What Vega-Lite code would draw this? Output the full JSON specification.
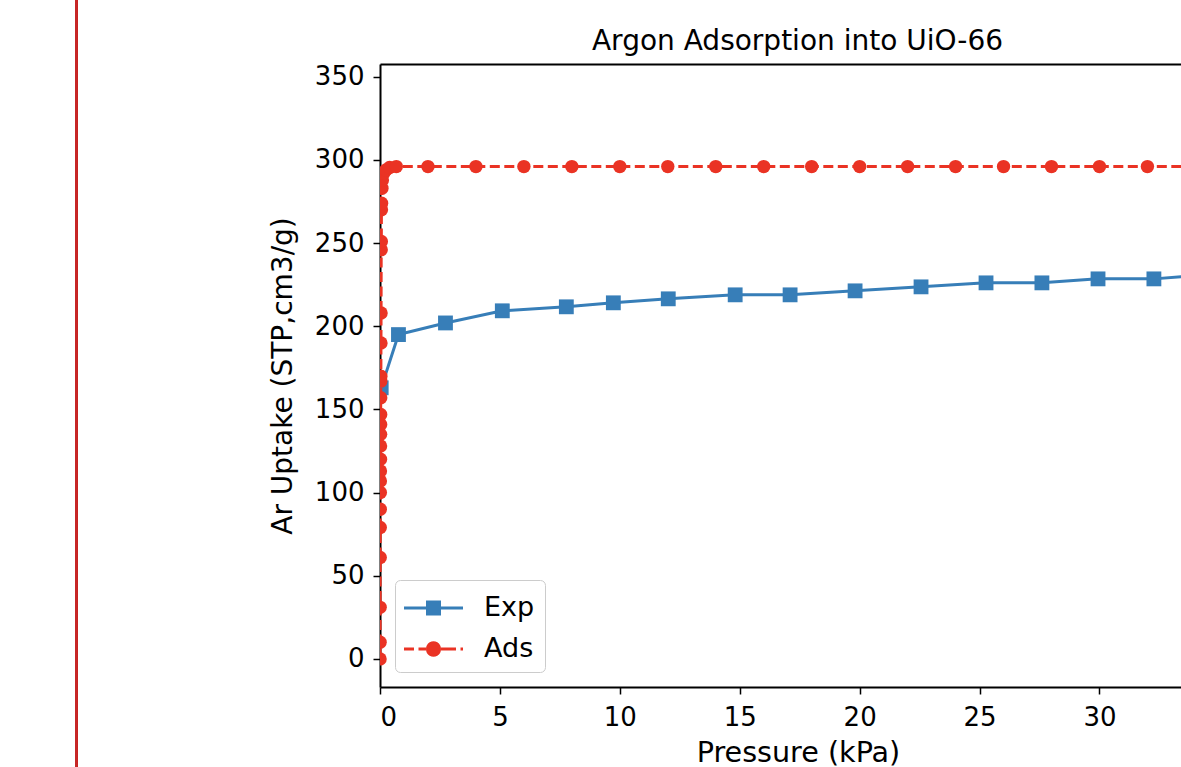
{
  "$schema": "https://vega.github.io/schema/vega-lite/v6.json",
  "autosize": "none",
  "padding": {"left": 380, "top": 64, "right": 0, "bottom": 80},
  "width": 801,
  "height": 623,
  "background": "white",
  "title": {
    "text": "Argon Adsorption into UiO-66",
    "font": "DejaVu Sans",
    "fontSize": 28,
    "fontWeight": "normal",
    "color": "black",
    "frame": "group",
    "anchor": "middle",
    "dx": 17,
    "offset": 0,
    "dy": 57
  },
  "config": {
    "view": {"stroke": null},
    "axis": {
      "labelFont": "DejaVu Sans",
      "titleFont": "DejaVu Sans",
      "labelColor": "black",
      "titleColor": "black",
      "domainColor": "black",
      "tickColor": "black",
      "titleFontWeight": "normal",
      "grid": false
    },
    "legend": {
      "labelFont": "DejaVu Sans",
      "labelColor": "black"
    }
  },
  "data": {
    "values": [
      {"series": "Exp", "pressure": 0.05, "uptake": 163},
      {"series": "Exp", "pressure": 0.77, "uptake": 195},
      {"series": "Exp", "pressure": 2.73, "uptake": 202},
      {"series": "Exp", "pressure": 5.1, "uptake": 209.3},
      {"series": "Exp", "pressure": 7.77, "uptake": 211.7},
      {"series": "Exp", "pressure": 9.73, "uptake": 214.1},
      {"series": "Exp", "pressure": 12.02, "uptake": 216.5},
      {"series": "Exp", "pressure": 14.81, "uptake": 218.9},
      {"series": "Exp", "pressure": 17.1, "uptake": 218.9},
      {"series": "Exp", "pressure": 19.81, "uptake": 221.3},
      {"series": "Exp", "pressure": 22.56, "uptake": 223.7},
      {"series": "Exp", "pressure": 25.27, "uptake": 226.1},
      {"series": "Exp", "pressure": 27.6, "uptake": 226.1},
      {"series": "Exp", "pressure": 29.94, "uptake": 228.5},
      {"series": "Exp", "pressure": 32.27, "uptake": 228.5},
      {"series": "Exp", "pressure": 34.6, "uptake": 231},
      {"series": "Ads", "pressure": 0.002, "uptake": 0},
      {"series": "Ads", "pressure": 0.004, "uptake": 10},
      {"series": "Ads", "pressure": 0.006, "uptake": 31},
      {"series": "Ads", "pressure": 0.008, "uptake": 61},
      {"series": "Ads", "pressure": 0.01, "uptake": 79},
      {"series": "Ads", "pressure": 0.012, "uptake": 90},
      {"series": "Ads", "pressure": 0.014, "uptake": 100},
      {"series": "Ads", "pressure": 0.016, "uptake": 107},
      {"series": "Ads", "pressure": 0.018, "uptake": 113},
      {"series": "Ads", "pressure": 0.02, "uptake": 120},
      {"series": "Ads", "pressure": 0.022, "uptake": 128},
      {"series": "Ads", "pressure": 0.024, "uptake": 135},
      {"series": "Ads", "pressure": 0.026, "uptake": 141},
      {"series": "Ads", "pressure": 0.028, "uptake": 147},
      {"series": "Ads", "pressure": 0.03, "uptake": 157},
      {"series": "Ads", "pressure": 0.033, "uptake": 167},
      {"series": "Ads", "pressure": 0.036, "uptake": 170},
      {"series": "Ads", "pressure": 0.04, "uptake": 190},
      {"series": "Ads", "pressure": 0.045, "uptake": 208},
      {"series": "Ads", "pressure": 0.05, "uptake": 246},
      {"series": "Ads", "pressure": 0.055, "uptake": 251},
      {"series": "Ads", "pressure": 0.06, "uptake": 270},
      {"series": "Ads", "pressure": 0.065, "uptake": 274},
      {"series": "Ads", "pressure": 0.08, "uptake": 283},
      {"series": "Ads", "pressure": 0.1, "uptake": 288},
      {"series": "Ads", "pressure": 0.15, "uptake": 292},
      {"series": "Ads", "pressure": 0.25, "uptake": 294},
      {"series": "Ads", "pressure": 0.4, "uptake": 295.5},
      {"series": "Ads", "pressure": 0.68, "uptake": 296},
      {"series": "Ads", "pressure": 2, "uptake": 296},
      {"series": "Ads", "pressure": 4, "uptake": 296},
      {"series": "Ads", "pressure": 6, "uptake": 296},
      {"series": "Ads", "pressure": 8, "uptake": 296},
      {"series": "Ads", "pressure": 10, "uptake": 296},
      {"series": "Ads", "pressure": 12, "uptake": 296},
      {"series": "Ads", "pressure": 14, "uptake": 296},
      {"series": "Ads", "pressure": 16, "uptake": 296},
      {"series": "Ads", "pressure": 18, "uptake": 296},
      {"series": "Ads", "pressure": 20, "uptake": 296},
      {"series": "Ads", "pressure": 22, "uptake": 296},
      {"series": "Ads", "pressure": 24, "uptake": 296},
      {"series": "Ads", "pressure": 26, "uptake": 296},
      {"series": "Ads", "pressure": 28, "uptake": 296},
      {"series": "Ads", "pressure": 30, "uptake": 296},
      {"series": "Ads", "pressure": 32, "uptake": 296},
      {"series": "Ads", "pressure": 34, "uptake": 296}
    ]
  },
  "encoding": {
    "x": {
      "field": "pressure",
      "type": "quantitative",
      "scale": {"domain": [0, 33.4], "nice": false, "zero": false}
    },
    "y": {
      "field": "uptake",
      "type": "quantitative",
      "scale": {"domain": [-16.9, 357.7], "nice": false, "zero": false}
    }
  },
  "layer": [
    {
      "transform": [{"filter": "datum.series === 'Exp'"}],
      "mark": {
        "type": "line",
        "clip": true,
        "color": "#377eb8",
        "strokeWidth": 3,
        "point": {"shape": "square", "size": 220, "filled": true, "color": "#377eb8", "clip": true}
      },
      "encoding": {
        "x": {
          "field": "pressure",
          "type": "quantitative",
          "axis": {
            "orient": "bottom",
            "title": "Pressure (kPa)",
            "values": [0, 5, 10, 15, 20, 25, 30],
            "labelFontSize": 26,
            "titleFontSize": 28.6,
            "titleX": 418,
            "tickSize": 7,
            "tickWidth": 1.5,
            "domainWidth": 2,
            "labelPadding": 10,
            "titlePadding": 8
          }
        },
        "y": {
          "field": "uptake",
          "type": "quantitative",
          "axis": {
            "title": "Ar Uptake (STP,cm3/g)",
            "values": [0, 50, 100, 150, 200, 250, 300, 350],
            "labelFontSize": 26,
            "titleFontSize": 28,
            "tickSize": 7,
            "tickWidth": 1.5,
            "domainWidth": 2,
            "labelPadding": 9,
            "titlePadding": 17
          }
        }
      }
    },
    {
      "transform": [{"filter": "datum.series === 'Ads'"}],
      "mark": {
        "type": "line",
        "clip": true,
        "color": "#ea3324",
        "strokeWidth": 3,
        "strokeDash": [10, 4.5],
        "point": {"shape": "circle", "size": 180, "filled": true, "color": "#ea3324", "clip": true}
      },
      "encoding": {
        "x": {
          "field": "pressure",
          "type": "quantitative",
          "axis": {
            "orient": "top",
            "title": null,
            "labels": false,
            "ticks": false,
            "domainWidth": 2
          }
        },
        "y": {"field": "uptake", "type": "quantitative", "axis": null}
      }
    },
    {
      "mark": {"type": "point", "filled": true, "opacity": 0},
      "encoding": {
        "x": {"field": "pressure", "type": "quantitative", "axis": null},
        "y": {"field": "uptake", "type": "quantitative", "axis": null},
        "color": {
          "field": "series",
          "type": "nominal",
          "scale": {"domain": ["Exp", "Ads"], "range": ["#377eb8", "#ea3324"]},
          "legend": {
            "title": null,
            "orient": "bottom-left",
            "offset": 15,
            "padding": 10,
            "rowPadding": 10,
            "symbolSize": 1296,
            "symbolStrokeWidth": 0,
            "symbolOpacity": 1,
            "labelFontSize": 27,
            "labelOffset": 43,
            "strokeColor": "#cccccc",
            "fillColor": "rgba(255,255,255,0.8)",
            "cornerRadius": 5
          }
        },
        "shape": {
          "field": "series",
          "type": "nominal",
          "scale": {
            "domain": ["Exp", "Ads"],
            "range": [
              "M-1.056,-0.083H0.167V0.083H-1.056Z M0.167,-0.417H1V0.417H0.167Z M1,-0.083H2.222V0.083H1Z",
              "M-1.056,-0.083H-0.5V0.083H-1.056Z M-0.25,-0.083H0.167V0.083H-0.25Z M1,0A0.417,0.417 0 1,1 0.167,0A0.417,0.417 0 1,1 1,0Z M1,-0.083H1.834V0.083H1Z M2.084,-0.083H2.222V0.083H2.084Z"
            ]
          },
          "legend": {
            "title": null,
            "orient": "bottom-left",
            "offset": 15,
            "padding": 10,
            "rowPadding": 10,
            "symbolSize": 1296,
            "symbolStrokeWidth": 0,
            "symbolOpacity": 1,
            "labelFontSize": 27,
            "labelOffset": 43,
            "strokeColor": "#cccccc",
            "fillColor": "rgba(255,255,255,0.8)",
            "cornerRadius": 5
          }
        }
      }
    },
    {
      "mark": {"type": "rule", "clip": false, "color": "#c62828", "strokeWidth": 2},
      "encoding": {
        "x": {"datum": -12.67, "type": "quantitative", "axis": null},
        "y": {"datum": 396.2, "type": "quantitative", "axis": null},
        "y2": {"datum": -64.7}
      }
    }
  ],
  "resolve": {"axis": {"x": "independent", "y": "independent"}}
}
